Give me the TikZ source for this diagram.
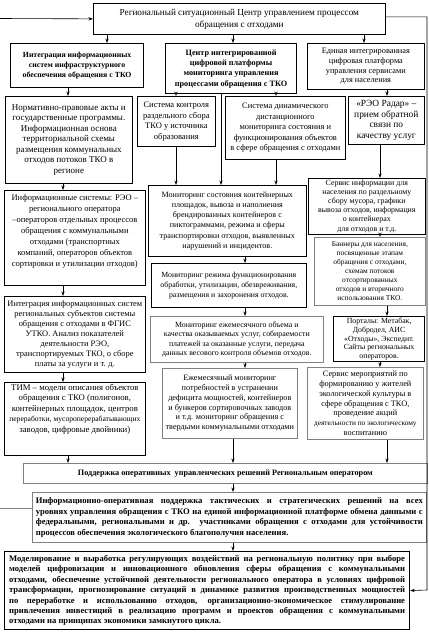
\documentclass[tikz,border=0pt]{standalone}
\usepackage{fontspec}
\setmainfont{Liberation Serif}
\usetikzlibrary{arrows.meta,calc}
\begin{document}
\begin{tikzpicture}[x=1pt,y=-1pt,
 bx/.style={draw, line width=0.7pt, anchor=north west, align=center, inner sep=1.5pt},
 gb/.style={bx, draw=black!50},
 tb/.style={bx, line width=1.2pt},
 fs/.style n args={2}{font=\fontsize{#1}{#2}\selectfont},
 fb/.style n args={2}{font=\fontsize{#1}{#2}\selectfont\bfseries},
 arr/.style={-{Stealth[length=4.5pt,width=3.2pt]}, line width=0.6pt},
]
\useasboundingbox (0,0) rectangle (429,633);
% helper x positions
\coordinate (x63) at (63,0);
\coordinate (x68) at (68,0);
\coordinate (x107) at (107,0);
\coordinate (x176) at (176,0);
\coordinate (x221) at (221,0);
\coordinate (x233) at (233,0);
\coordinate (x245) at (245,0);
\coordinate (x276) at (276,0);
\coordinate (x364) at (364,0);
\coordinate (x380) at (380,0);
\coordinate (x387) at (387,0);

\node[bx, fs={9.2}{12}, minimum width=292pt, minimum height=31pt] (T) at (93,3)
 {Региональный ситуационный Центр управлением процессом\\обращения с отходами};

\node[tb, fb={7.8}{10.2}, minimum width=133pt, minimum height=44pt] (L0) at (10,43)
 {Интеграция информационных\\систем инфраструктурного\\обеспечения обращения с ТКО};
\node[tb, fb={8.2}{10.3}, minimum width=131pt, minimum height=50pt] (M0) at (165,43)
 {Центр интегрированной\\цифровой платформы\\мониторинга управления\\процессами обращения с ТКО};
\node[bx, fs={8.3}{9.8}, minimum width=117pt, minimum height=46pt] (R0) at (307,43)
 {Единая интегрированная\\цифровая платформа\\управления сервисами\\для населения};

\node[bx, fs={9.0}{10.5}, minimum width=127pt, minimum height=87pt] (L1) at (5,96)
 {Нормативно-правовые акты и\\государственные программы.\\Информационная основа\\территориальной схемы\\размещения коммунальных\\отходов потоков ТКО в\\регионе};
\node[bx, fs={8.5}{10.5}, minimum width=78pt, minimum height=50pt] (M1a) at (137,96)
 {Система контроля\\раздельного сбора\\ТКО у источника\\образования};
\node[bx, fs={8.4}{10.5}, minimum width=120pt, minimum height=63pt] (M1b) at (225,96)
 {Система динамического\\дистанционного\\мониторинга состояния и\\функционирования объектов\\в сфере обращения с отходами};
\node[bx, fs={9.4}{10.8}, minimum width=76pt, minimum height=48pt] (R1) at (348,96)
 {«РЭО Радар» –\\прием обратной\\связи по\\качеству услуг};

\node[bx, fs={8.5}{11}, minimum width=141pt, minimum height=95pt] (L2) at (4,190)
 {Информационные системы: РЭО –\\регионального оператора\\–операторов отдельных процессов\\обращения с коммунальными\\отходами (транспортных\\компаний, операторов объектов\\сортировки и утилизации отходов)\\[4pt]};
\node[bx, fs={8.1}{10.2}, minimum width=158pt, minimum height=71pt] (M2) at (148,185)
 {Мониторинг состояния контейнерных\\площадок, вывоза и наполнения\\брендированных контейнеров с\\пиктограммами, режима и сферы\\транспортировки отходов, выявленных\\нарушений и инцидентов.};
\node[bx, fs={7.9}{9.1}, minimum width=117pt, minimum height=56pt] (R2) at (308,178)
 {Сервис информации для\\населения по раздельному\\сбору мусора, графики\\вывоза отходов, информация\\о контейнерах\\для отходов и т.д.};

\node[bx, fs={7.8}{10}, minimum width=155pt, minimum height=44pt] (M3) at (151,263)
 {Мониторинг режима функционирования\\обработки, утилизации, обезвреживания,\\размещения и захоронения отходов.};
\node[gb, fs={7.4}{9}, minimum width=111pt, minimum height=68pt] (R3) at (314,237)
 {Баннеры для населения,\\посвященные этапам\\обращения с отходами,\\схемам потоков\\отсортированных\\отходов и вторичного\\использования ТКО.};

\node[bx, fs={8.4}{9.9}, minimum width=141pt, minimum height=76pt] (L3) at (4,296)
 {Интеграция информационных систем\\региональных субъектов системы\\обращения с отходами в ФГИС\\УТКО. Анализ показателей\\деятельности РЭО,\\транспортируемых ТКО, о сборе\\платы за услуги и т. д.};
\node[gb, fs={7.9}{9.4}, minimum width=173pt, minimum height=46pt] (M4) at (150,316)
 {Мониторинг ежемесячного объема и\\качества оказываемых услуг, собираемости\\платежей за оказанные услуги, передача\\данных весового контроля объемов отходов.};
\node[tb, fs={7.8}{8.7}, minimum width=91pt, minimum height=44pt] (R4) at (333,316)
 {Порталы: Метабак,\\Добродел, АИС\\«Отходы», Экспедит.\\Сайты региональных\\операторов.};

\node[bx, fs={8.7}{10.6}, minimum width=141pt, minimum height=71pt] (L4) at (4,382)
 {ТИМ – модели описания объектов\\обращения с ТКО (полигонов,\\контейнерных площадок, центров\\{\fontsize{7.6}{10.6}\selectfont переработки, мусороперерабатывающих}\\заводов, цифровые двойники)\\[11pt]};
\node[gb, fs={8.2}{9.8}, minimum width=135pt, minimum height=70pt] (M5) at (162,368)
 {Ежемесячный мониторинг\\потребностей в устранении\\дефицита мощностей, контейнеров\\и бункеров сортировочных заводов\\и т.д. мониторинг обращения с\\твердыми коммунальными отходами};
\node[gb, fs={8.3}{9.8}, minimum width=116pt, minimum height=72pt] (R5) at (307,367)
 {Сервис мероприятий по\\формированию у жителей\\экологической культуры в\\сфере обращения с ТКО,\\проведение акций\\{\fontsize{7.3}{9.8}\selectfont деятельности по экологическому}\\воспитанию};

\node[gb, fb={8.2}{10}, minimum width=404pt, minimum height=20pt] (S) at (23,463)
 {Поддержка оперативных \ управленческих решений Региональным оператором};

\node[gb, fb={8.6}{10.4}, minimum width=394pt, minimum height=50pt, text width=387pt, align=justify, inner sep=3pt] (I) at (32,492)
 {Информационно-оперативная поддержка тактических и стратегических решений на всех\linebreak уровнях управления обращения с ТКО на единой информационной платформе обмена данными с\linebreak федеральными, региональными и др. участниками обращения с отходами для устойчивости\linebreak процессов обеспечения экологического благополучия населения.};

\node[tb, fb={8.6}{10.4}, minimum width=405pt, minimum height=78pt, text width=396pt, align=justify, inner sep=3pt] (B) at (4,551)
 {Моделирование и выработка регулирующих воздействий на региональную политику при выборе\linebreak моделей цифровизации и инновационного обновления сферы обращения с коммунальными\linebreak отходами, обеспечение устойчивой деятельности регионального оператора в условиях цифровой\linebreak трансформации, прогнозирование ситуаций в динамике развития производственных мощностей\linebreak по переработке и использованию отходов, организационно-экономическое стимулирование\linebreak привлечения инвестиций в реализацию программ и проектов обращения с коммунальными\linebreak отходами на принципах экономики замкнутого цикла.};

% arrows from top
\draw[arr] (T.south -| x107) -- (L0.north -| x107);
\draw[arr] (T.south -| x233) -- (M0.north -| x233);
\draw[arr] (T.south -| x364) -- (R0.north -| x364);
% left column
\draw[arr] (L0.south -| x68) -- (L1.north -| x68);
\draw[arr] (L1.south -| x63) -- (L2.north -| x63);
\draw[arr] (L2.south -| x63) -- (L3.north -| x63);
\draw[arr] (L3.south -| x63) -- (L4.north -| x63);
\draw[arr] (L4.south -| x68) -- (S.north -| x68);
% middle column
\draw[arr] (M0.south -| x176) -- (M1a.north -| x176);
\draw[arr] (M0.south -| x276) -- (M1b.north -| x276);
\draw[arr] (M0.south -| x221) -- (M2.north -| x221);
\draw[arr] (M1a.south -| x176) -- (M2.north -| x176);
\draw[arr] (M1b.south -| x276) -- (M2.north -| x276);
\draw[arr] (M2.south -| x245) -- (M3.north -| x245);
\draw[arr] (M3.south -| x245) -- (M4.north -| x245);
\draw[arr] (M4.south -| x245) -- (M5.north -| x245);
\draw[arr] (M5.south -| x233) -- (S.north -| x233);
% right column
\draw[arr] (R0.south -| x387) -- (R1.north -| x387);
\draw[arr] (R1.south -| x380) -- (R2.north -| x380);
\draw[arr] (R2.south -| x380) -- (R3.north -| x380);
\draw[arr] (R3.south -| x387) -- (R4.north -| x387);
\draw[arr] (R4.south -| x380) -- (R5.north -| x380);
\draw[arr] (R5.south -| x387) -- (S.north -| x387);
% bottom chain
\draw[arr] (S.south -| x233) -- (I.north -| x233);
\draw[arr] (I.south -| x233) -- (B.north -| x233);
% feedback loops
\coordinate (rt) at (427,590);
\draw[arr] ([yshift=2pt]T.east) -| (rt) -- (B.east);
\coordinate (lin) at (0,18.5);
\draw[arr] (lin) -- (T.west);
\coordinate (lout) at (0,508);
\draw[draw=black!50, line width=0.6pt] (I.west |- lout) -- (lout);
\end{tikzpicture}
\end{document}
